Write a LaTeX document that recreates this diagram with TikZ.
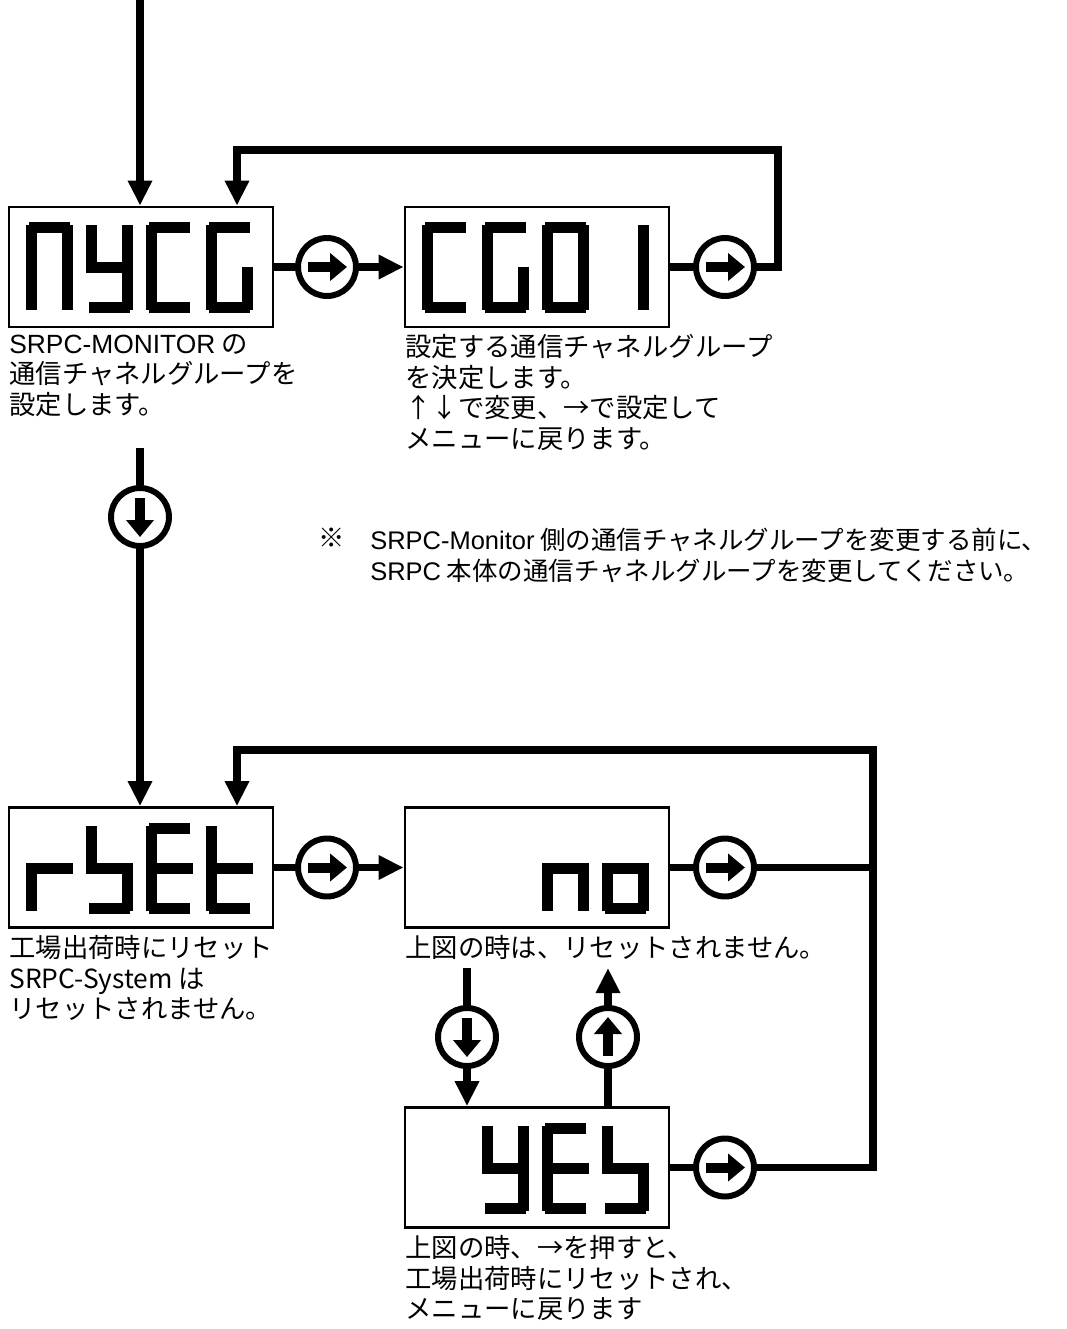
\documentclass[tikz,border=0pt]{standalone}
\usepackage{fontspec}
\setmainfont{Liberation Sans}
\newfontfamily\jp{Noto Sans CJK JP}
\newfontfamily\la{Liberation Sans}
\usepackage{tikz}
\usetikzlibrary{arrows.meta,calc}

\newcommand{\sega}{(3,0) rectangle (44,11)}
\newcommand{\segb}{(36,3) rectangle (47,46)}
\newcommand{\segc}{(36,45) rectangle (47,88)}
\newcommand{\segd}{(3,80) rectangle (44,91)}
\newcommand{\sege}{(0,45) rectangle (11,88)}
\newcommand{\segf}{(0,3) rectangle (11,46)}
\newcommand{\segg}{(0,40) rectangle (47,51)}
\newcommand{\segchar}[3]{\begin{scope}[shift={(#1,#2)}]\foreach \s in {#3}{\expandafter\fill\csname seg\s\endcsname;}\end{scope}}

\begin{document}
\begin{tikzpicture}[x=0.02cm,y=-0.02cm,
  disp/.style={draw,line width=1.6pt,minimum width=5.28cm,minimum height=2.4cm,inner sep=0pt},
  btn/.style={circle,draw,line width=3.4pt,minimum size=1.16cm,inner sep=0pt},
  key/.style={line width=5.7pt,-{Triangle[length=0.34cm,width=0.54cm]}},
  flow/.style={line width=4pt},
  flowto/.style={flow,-{Triangle[length=0.5cm,width=0.46cm]}},
  note/.style={anchor=north west,inner sep=0pt,align=left,font=\fontsize{15}{17.4}\selectfont\jp}]
\useasboundingbox (0,0) rectangle (1067,1329);

\node[disp] (nycg) at (141,267) {};
\node[disp] (cg01) at (537,267) {};
\node[disp] (rset) at (141,867.5) {};
\node[disp] (no) at (537,867.5) {};
\node[disp] (yes) at (537,1167.5) {};

\segchar{26}{222}{a,b,c,e,f}
\segchar{86}{222}{f,b,g,c,d}
\segchar{146}{222}{a,f,e,d}
\segchar{206}{222}{a,f,e,d,c}
\segchar{422}{222}{a,f,e,d}
\segchar{482}{222}{a,f,e,d,c}
\segchar{542}{222}{a,b,c,d,e,f}
\segchar{602}{222}{b,c}
\segchar{26}{823}{e,g}
\segchar{86}{823}{f,g,c,d}
\segchar{146}{823}{a,f,g,e,d}
\segchar{206}{823}{f,e,g,d}
\segchar{542}{823}{e,g,c}
\segchar{602}{823}{e,g,c,d}
\segchar{482}{1123}{f,b,g,c,d}
\segchar{542}{1123}{a,f,g,e,d}
\segchar{602}{1123}{f,g,c,d}

\node[btn] (k1) at (327,267) {};
\node[btn] (k2) at (725,267) {};
\node[btn] (k3) at (140,517) {};
\node[btn] (k4) at (327,867.5) {};
\node[btn] (k5) at (725,867.5) {};
\node[btn] (k6) at (467,1037) {};
\node[btn] (k7) at (608,1037) {};
\node[btn] (k8) at (725,1167.5) {};
\draw[key] ($(k1)+(-19,0)$) -- ($(k1)+(20,0)$);
\draw[key] ($(k2)+(-19,0)$) -- ($(k2)+(20,0)$);
\draw[key] ($(k3)+(0,-19)$) -- ($(k3)+(0,20)$);
\draw[key] ($(k4)+(-19,0)$) -- ($(k4)+(20,0)$);
\draw[key] ($(k5)+(-19,0)$) -- ($(k5)+(20,0)$);
\draw[key] ($(k6)+(0,-19)$) -- ($(k6)+(0,20)$);
\draw[key] ($(k7)+(0,19)$) -- ($(k7)+(0,-20)$);
\draw[key] ($(k8)+(-19,0)$) -- ($(k8)+(20,0)$);

\coordinate (in) at (140,0);
\coordinate (c1) at (778,150);
\coordinate (d1) at (140,448);
\coordinate (c2) at (873,750);
\coordinate (d2) at (467,968);
\coordinate (u2) at (608,968);

\draw[flowto] (in) -- (in |- nycg.north);
\draw[flow] (nycg) -- (k1);
\draw[flowto] (k1) -- (cg01);
\draw[flow] (cg01) -- (k2);
\draw[flowto] (k2) -| (c1) -| ($(nycg.north)+(96,0)$);
\draw[flow] (d1) -- (k3);
\draw[flowto] (k3) -- (k3 |- rset.north);
\draw[flow] (rset) -- (k4);
\draw[flowto] (k4) -- (no);
\draw[flow] (no) -- (k5);
\draw[flowto] (k5) -| (c2) -| ($(rset.north)+(96,0)$);
\draw[flow] (yes) -- (k8);
\draw[flow] (k8) -| (c2);
\draw[flow] (d2) -- (k6);
\draw[flowto] (k6) -- (k6 |- yes.north);
\draw[flow] (k7 |- yes.north) -- (k7);
\draw[flowto] (k7) -- (u2);

\node[note] (t1) at (9,334) {{\la SRPC-MONITOR} の\\通信チャネルグループを\\設定します。};
\node[note] (t2) at (405,334) {設定する通信チャネルグループ\\を決定します。\\↑↓で変更、→で設定して\\メニューに戻ります。};
\node[note] (mk) at (318,528) {※};
\node[note,font=\fontsize{14.5}{17.4}\selectfont\jp] (t6) at (370,528) {{\la SRPC-Monitor} 側の通信チャネルグループを変更する前に、\\{\la SRPC} 本体の通信チャネルグループを変更してください。};
\node[note] (t3) at (9,935) {工場出荷時にリセット\\SRPC-System は\\リセットされません。};
\node[note] (t4) at (405,935) {上図の時は、リセットされません。};
\node[note] (t5) at (405,1235) {上図の時、→を押すと、\\工場出荷時にリセットされ、\\メニューに戻ります};
\end{tikzpicture}
\end{document}
